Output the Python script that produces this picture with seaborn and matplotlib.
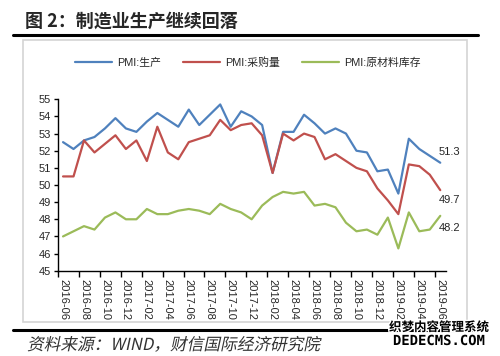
import numpy as np
import pandas as pd
import matplotlib
matplotlib.use("Agg")
import matplotlib.pyplot as plt
import seaborn as sns
from matplotlib.lines import Line2D
from matplotlib.patches import Rectangle, PathPatch
from matplotlib.textpath import TextPath
from matplotlib.transforms import Affine2D
from matplotlib.font_manager import FontProperties
import matplotlib.patheffects as pe

# 数据：2016-06 ~ 2019-06 月度 PMI 分项
months = [d.strftime("%Y-%m") for d in pd.date_range("2016-06-01", "2019-06-01", freq="MS")]

production = [52.5, 52.1, 52.6, 52.8, 53.3, 53.9, 53.3, 53.1, 53.7, 54.2, 53.8, 53.4,
              54.4, 53.5, 54.1, 54.7, 53.4, 54.3, 54.0, 53.5, 50.7, 53.1, 53.1, 54.1,
              53.6, 53.0, 53.3, 53.0, 52.0, 51.9, 50.8, 50.9, 49.5, 52.7, 52.1, 51.7, 51.3]
purchase = [50.5, 50.5, 52.6, 51.9, 52.4, 52.9, 52.1, 52.6, 51.4, 53.4, 51.9, 51.5,
            52.5, 52.7, 52.9, 53.8, 53.2, 53.5, 53.6, 52.9, 50.7, 53.0, 52.6, 53.0,
            52.8, 51.5, 51.8, 51.4, 51.0, 50.8, 49.8, 49.1, 48.3, 51.2, 51.1, 50.6, 49.7]
inventory = [47.0, 47.3, 47.6, 47.4, 48.1, 48.4, 48.0, 48.0, 48.6, 48.3, 48.3, 48.5,
             48.6, 48.5, 48.3, 48.9, 48.6, 48.4, 48.0, 48.8, 49.3, 49.6, 49.5, 49.6,
             48.8, 48.9, 48.7, 47.8, 47.3, 47.4, 47.1, 48.1, 46.3, 48.4, 47.3, 47.4, 48.2]

series_names = ["PMI:生产", "PMI:采购量", "PMI:原材料库存"]
colors = ["#4F81BD", "#C0504D", "#9BBB59"]

df = pd.DataFrame({
    "idx": list(range(len(months))) * 3,
    "value": production + purchase + inventory,
    "series": [series_names[0]] * len(months) + [series_names[1]] * len(months) + [series_names[2]] * len(months),
})

sns.set_style("white")
plt.rcParams['font.family'] = ['Liberation Sans', 'Noto Sans CJK SC']

W, H = 500, 356
fig = plt.figure(figsize=(5, 3.56), dpi=100)
ax = fig.add_axes([57.8 / W, 1 - 270.7 / H, (445.5 - 57.8) / W, (270.7 - 99.3) / H])

sns.lineplot(data=df, x="idx", y="value", hue="series", palette=colors, linewidth=1.6, ax=ax)

ax.set_xlim(-0.5, 36.5)
ax.set_ylim(45, 55)
ax.set_yticks(range(45, 56))
ax.set_xticks(range(0, len(months), 2))
ax.set_xticklabels(months[::2], rotation=-90, fontsize=8)
ax.set_xticks(np.arange(-0.5, 36, 2), minor=True)
ax.tick_params(axis="x", which="major", length=0, pad=6)
ax.tick_params(axis="x", which="minor", length=4, width=1, direction="out", color="black", bottom=True)
ax.tick_params(axis="y", length=3, width=1, direction="out", color="black", left=True, labelsize=8, pad=2)
ax.set_xlabel("")
ax.set_ylabel("")
for s in ["top", "right"]:
    ax.spines[s].set_visible(False)
for s in ["left", "bottom"]:
    ax.spines[s].set_color("black")
    ax.spines[s].set_linewidth(1)

sns.move_legend(ax, "center", bbox_to_anchor=(0.49, 1.212), ncol=3, frameon=False, title=None,
                fontsize=7.8, handlelength=3.4, handletextpad=0.5, columnspacing=2.0)

# 末端数值标注
for vals, dy in [(production, 8), (purchase, -7), (inventory, -9)]:
    ax.annotate(f"{vals[-1]:.1f}", (36, vals[-1]), xytext=(-1, dy), textcoords="offset points",
                ha="left", va="center", fontsize=8)

# 标题与装饰线
fig.text(25 / W, 1 - 21 / H, "图 2：制造业生产继续回落", fontsize=13, weight="bold",
         family=["Noto Sans CJK SC"], va="center", ha="left")
fig.add_artist(Line2D([13 / W, 478 / W], [1 - 34.5 / H] * 2, lw=2.2, color="black"))
fig.add_artist(Line2D([13 / W, 478 / W], [1 - 329.5 / H] * 2, lw=2.2, color="black"))
fig.add_artist(Rectangle((23 / W, 1 - 321.7 / H), (467 - 23) / W, (321.7 - 40) / H, fill=False,
                         ec="#d4d4d4", lw=1.2, transform=fig.transFigure))

# 资料来源（斜体）
tp = TextPath((0, 0), "资料来源：WIND，财信国际经济研究院", size=12,
              prop=FontProperties(family="Noto Sans CJK SC", weight="light"))
tr = Affine2D().skew_deg(12, 0).scale(1 / 72).translate(27 / 100, (H - 350) / 100) + fig.dpi_scale_trans
fig.add_artist(PathPatch(tp, transform=tr, color="#333333", lw=0))

# 水印
wm = [pe.withStroke(linewidth=2, foreground="white")]
fig.text(439 / W, 1 - 327.5 / H, "织梦内容管理系统", fontsize=9, weight="bold", family=["Noto Sans CJK SC"],
         ha="center", va="center", color="black", path_effects=wm)
fig.text(439 / W, 1 - 341 / H, "DEDECMS.COM", fontsize=10, weight="bold", family=["DejaVu Sans Mono"],
         ha="center", va="center", color="black", path_effects=wm)

fig.savefig("out.png", dpi=100, facecolor="white")
